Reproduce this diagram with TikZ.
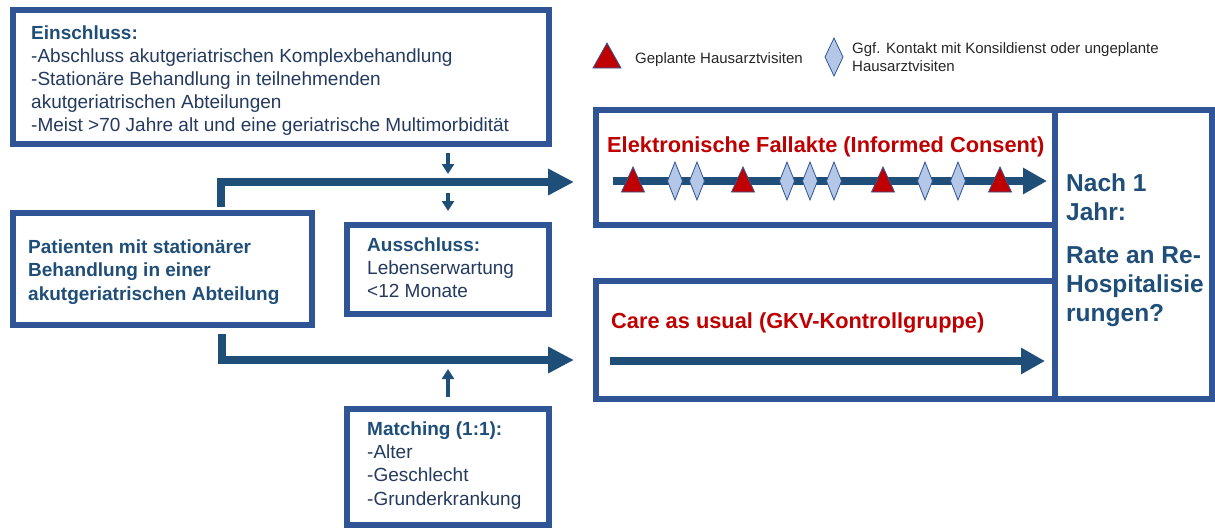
\documentclass[tikz,border=0pt]{standalone}
\usepackage{fontspec}
\setmainfont{Liberation Sans}
\usetikzlibrary{arrows.meta}
\definecolor{boxblue}{RGB}{47,85,151}
\definecolor{arrblue}{RGB}{31,78,121}
\definecolor{txtblue}{RGB}{31,78,121}
\definecolor{bodyblue}{RGB}{36,58,94}
\definecolor{darkred}{RGB}{192,0,0}
\definecolor{diafill}{RGB}{180,199,231}
\definecolor{legtxt}{RGB}{38,38,38}
\begin{document}
\begin{tikzpicture}[x=1pt,y=-1pt,
 box/.style={draw=boxblue, line width=6pt, fill=white, rectangle, inner sep=0pt},
 txt/.style={anchor=base west, inner sep=0pt, align=left},
 bigarrow/.style={draw=arrblue, line width=8pt, line join=miter, -{Triangle[length=26pt,width=25pt]}},
 timearrow/.style={draw=arrblue, line width=8pt, -{Triangle[length=24pt,width=25pt]}},
 smallarrow/.style={draw=arrblue, line width=4pt, -{Triangle[length=10pt,width=12pt]}},
 tri/.style={fill=darkred, draw=boxblue, line width=0.8pt, line join=miter},
 dia/.style={fill=diafill, draw=boxblue, line width=0.8pt},
]
\useasboundingbox (0,0) rectangle (1215,530);

% boxes
\node[box, minimum width=536pt, minimum height=134pt] (ein) at (281,77) {};
\node[box, minimum width=299pt, minimum height=112pt] (pat) at (162.5,269) {};
\node[box, minimum width=202pt, minimum height=89pt] (aus) at (448,269.5) {};
\node[box, minimum width=202pt, minimum height=116pt] (mat) at (448,467) {};
\node[box, minimum width=157pt, minimum height=289pt] (res) at (1133.5,254.5) {};
\node[box, minimum width=459pt, minimum height=115pt] (up) at (825.5,167.5) {};
\node[box, minimum width=459pt, minimum height=118pt] (low) at (825.5,340) {};

% texts (multi-line nodes: base anchor = baseline of last line)
\node[txt, text=bodyblue, font=\fontsize{19}{23}\selectfont] (eintxt) at (31,131)
 {\textbf{\color{txtblue}Einschluss:}\\
  -Abschluss akutgeriatrischen Komplexbehandlung\\
  -Stationäre Behandlung in teilnehmenden\\
  akutgeriatrischen Abteilungen\\
  -Meist >70 Jahre alt und eine geriatrische Multimorbidität};
\node[txt, text=txtblue, font=\fontsize{19}{23.5}\selectfont\bfseries] (pattxt) at (28,300)
 {Patienten mit stationärer\\Behandlung in einer\\akutgeriatrischen Abteilung};
\node[txt, text=bodyblue, font=\fontsize{19}{23}\selectfont] (austxt) at (367,297)
 {\textbf{\color{txtblue}Ausschluss:}\\Lebenserwartung\\<12 Monate};
\node[txt, text=bodyblue, font=\fontsize{19}{23.3}\selectfont] (mattxt) at (367,505)
 {\textbf{\color{txtblue}Matching (1:1):}\\-Alter\\-Geschlecht\\-Grunderkrankung};
\node[txt, text=darkred, font=\fontsize{21.8}{26}\selectfont\bfseries] (uptxt) at (607,152)
 {Elektronische Fallakte (Informed Consent)};
\node[txt, text=darkred, font=\fontsize{21.8}{26}\selectfont\bfseries] (lowtxt) at (611,328)
 {Care as usual (GKV-Kontrollgruppe)};
\node[txt, text=txtblue, font=\fontsize{24.5}{29}\selectfont\bfseries] (restxt) at (1066,321)
 {Nach 1\\Jahr:\\[14pt]Rate an Re-\\Hospitalisie\\rungen?};

% legend
\draw[tri] (593,68) -- (607,43) -- (621,68) -- cycle;
\node[txt, text=legtxt, font=\fontsize{15}{18}\selectfont] (leg1) at (635,63) {Geplante Hausarztvisiten};
\draw[dia] (834,38) -- (843,57) -- (834,76) -- (825,57) -- cycle;
\node[txt, text=legtxt, font=\fontsize{15}{18}\selectfont] (leg2) at (852,71)
 {Ggf. Kontakt mit Konsildienst oder ungeplante\\Hausarztvisiten};

% main flow arrows
\coordinate (s1) at (221,207);
\coordinate (t1) at (574,182);
\coordinate (s2) at (222,334);
\coordinate (t2) at (574,360);
\draw[bigarrow] (s1) |- (t1);
\draw[bigarrow] (s2) |- (t2);
\draw[smallarrow, shorten <=6pt, shorten >=8pt] (aus.north |- ein.south) -- (aus.north |- t1);
\draw[smallarrow, shorten <=11pt, shorten >=11pt] (aus.north |- t1) -- (aus.north);
\draw[smallarrow, shorten <=9pt, shorten >=9pt] (mat.north) -- (mat.north |- t2);

% timelines
\coordinate (e1) at (613,181);
\coordinate (e2) at (1047,181);
\coordinate (f1) at (610,361);
\coordinate (f2) at (1045,361);
\draw[timearrow] (e1) -- (e2);
\draw[timearrow] (f1) -- (f2);
\foreach \x in {675,697,787,810,834,925,958}
  \draw[dia] (\x,162) -- (\x+7.5,181) -- (\x,200) -- (\x-7.5,181) -- cycle;
\foreach \x in {633,743,883,1000}
  \draw[tri] (\x-11.5,192) -- (\x,167) -- (\x+11.5,192) -- cycle;
\end{tikzpicture}
\end{document}
